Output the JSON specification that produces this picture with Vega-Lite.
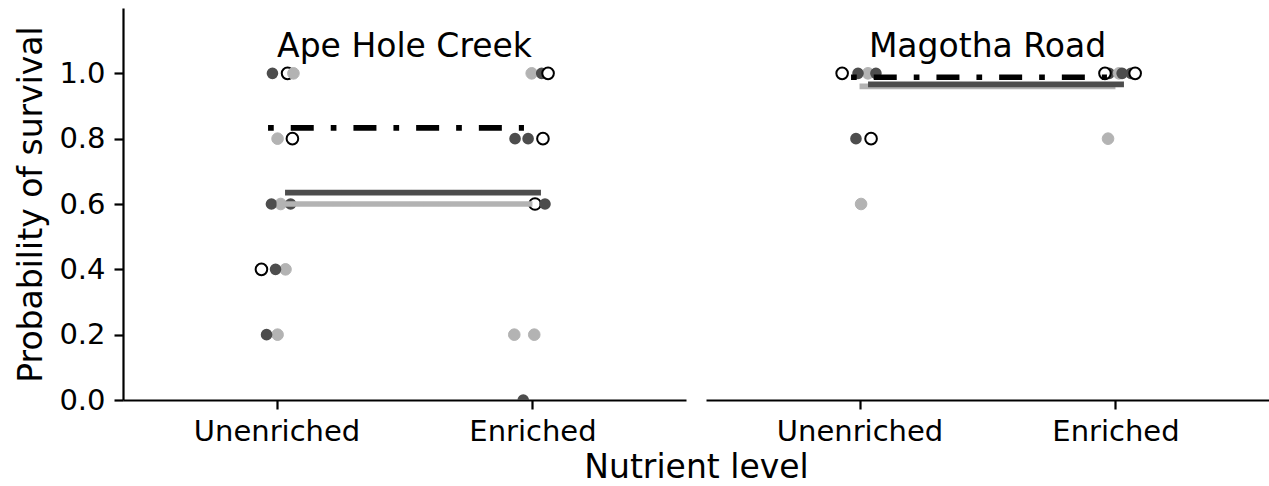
{
  "$schema": "https://vega.github.io/schema/vega-lite/v6.json",
  "background": "white",
  "padding": {"left": 15, "top": 8, "right": 0, "bottom": 0},
  "config": {
    "font": "DejaVu Sans",
    "view": {"stroke": null},
    "axis": {
      "domainColor": "black", "domainWidth": 2.2, "tickColor": "black", "tickWidth": 2.2, "tickSize": 9,
      "labelColor": "black", "labelFont": "DejaVu Sans", "labelFontSize": 29, "labelOverlap": false,
      "titleFont": "DejaVu Sans", "titleFontSize": 33, "titleFontWeight": "normal", "titleColor": "black",
      "grid": false
    },
    "title": {"font": "DejaVu Sans", "fontSize": 33, "fontWeight": "normal", "color": "black"}
  },
  "datasets": {
    "survival": [
      {"site": "Ape Hole Creek", "nutrient": "Unenriched", "group": "A", "kind": "obs", "prob": 1.0, "jitter": 0.043},
      {"site": "Ape Hole Creek", "nutrient": "Unenriched", "group": "A", "kind": "obs", "prob": 0.8, "jitter": 0.062},
      {"site": "Ape Hole Creek", "nutrient": "Unenriched", "group": "A", "kind": "obs", "prob": 0.4, "jitter": -0.059},
      {"site": "Ape Hole Creek", "nutrient": "Unenriched", "group": "B", "kind": "obs", "prob": 1.0, "jitter": 0.066},
      {"site": "Ape Hole Creek", "nutrient": "Unenriched", "group": "B", "kind": "obs", "prob": 0.8, "jitter": 0.004},
      {"site": "Ape Hole Creek", "nutrient": "Unenriched", "group": "B", "kind": "obs", "prob": 0.6, "jitter": 0.016},
      {"site": "Ape Hole Creek", "nutrient": "Unenriched", "group": "B", "kind": "obs", "prob": 0.4, "jitter": 0.035},
      {"site": "Ape Hole Creek", "nutrient": "Unenriched", "group": "B", "kind": "obs", "prob": 0.2, "jitter": 0.004},
      {"site": "Ape Hole Creek", "nutrient": "Unenriched", "group": "C", "kind": "obs", "prob": 1.0, "jitter": -0.016},
      {"site": "Ape Hole Creek", "nutrient": "Unenriched", "group": "C", "kind": "obs", "prob": 0.6, "jitter": -0.020},
      {"site": "Ape Hole Creek", "nutrient": "Unenriched", "group": "C", "kind": "obs", "prob": 0.6, "jitter": 0.055},
      {"site": "Ape Hole Creek", "nutrient": "Unenriched", "group": "C", "kind": "obs", "prob": 0.4, "jitter": -0.004},
      {"site": "Ape Hole Creek", "nutrient": "Unenriched", "group": "C", "kind": "obs", "prob": 0.2, "jitter": -0.039},
      {"site": "Ape Hole Creek", "nutrient": "Enriched", "group": "A", "kind": "obs", "prob": 0.8, "jitter": 0.041},
      {"site": "Ape Hole Creek", "nutrient": "Enriched", "group": "A", "kind": "obs", "prob": 0.6, "jitter": 0.010},
      {"site": "Ape Hole Creek", "nutrient": "Enriched", "group": "B", "kind": "obs", "prob": 1.0, "jitter": -0.003},
      {"site": "Ape Hole Creek", "nutrient": "Enriched", "group": "B", "kind": "obs", "prob": 0.2, "jitter": -0.071},
      {"site": "Ape Hole Creek", "nutrient": "Enriched", "group": "B", "kind": "obs", "prob": 0.2, "jitter": 0.007},
      {"site": "Ape Hole Creek", "nutrient": "Enriched", "group": "C", "kind": "obs", "prob": 1.0, "jitter": 0.036},
      {"site": "Ape Hole Creek", "nutrient": "Enriched", "group": "C", "kind": "obs", "prob": 0.8, "jitter": -0.068},
      {"site": "Ape Hole Creek", "nutrient": "Enriched", "group": "C", "kind": "obs", "prob": 0.8, "jitter": -0.017},
      {"site": "Ape Hole Creek", "nutrient": "Enriched", "group": "C", "kind": "obs", "prob": 0.6, "jitter": 0.049},
      {"site": "Ape Hole Creek", "nutrient": "Enriched", "group": "C", "kind": "obs", "prob": 0.0, "jitter": -0.036},
      {"site": "Ape Hole Creek", "nutrient": "Enriched", "group": "A", "kind": "obs", "prob": 1.0, "jitter": 0.061},
      {"site": "Magotha Road", "nutrient": "Unenriched", "group": "A", "kind": "obs", "prob": 1.0, "jitter": -0.068},
      {"site": "Magotha Road", "nutrient": "Unenriched", "group": "A", "kind": "obs", "prob": 0.8, "jitter": 0.045},
      {"site": "Magotha Road", "nutrient": "Unenriched", "group": "B", "kind": "obs", "prob": 1.0, "jitter": 0.033},
      {"site": "Magotha Road", "nutrient": "Unenriched", "group": "B", "kind": "obs", "prob": 0.6, "jitter": 0.006},
      {"site": "Magotha Road", "nutrient": "Unenriched", "group": "C", "kind": "obs", "prob": 1.0, "jitter": -0.006},
      {"site": "Magotha Road", "nutrient": "Unenriched", "group": "C", "kind": "obs", "prob": 1.0, "jitter": 0.064},
      {"site": "Magotha Road", "nutrient": "Unenriched", "group": "C", "kind": "obs", "prob": 0.8, "jitter": -0.014},
      {"site": "Magotha Road", "nutrient": "Enriched", "group": "C", "kind": "obs", "prob": 1.0, "jitter": -0.025},
      {"site": "Magotha Road", "nutrient": "Enriched", "group": "A", "kind": "obs", "prob": 1.0, "jitter": -0.041},
      {"site": "Magotha Road", "nutrient": "Enriched", "group": "B", "kind": "obs", "prob": 1.0, "jitter": 0.014},
      {"site": "Magotha Road", "nutrient": "Enriched", "group": "B", "kind": "obs", "prob": 0.8, "jitter": -0.029},
      {"site": "Magotha Road", "nutrient": "Enriched", "group": "C", "kind": "obs", "prob": 1.0, "jitter": 0.026},
      {"site": "Magotha Road", "nutrient": "Enriched", "group": "C", "kind": "obs", "prob": 1.0, "jitter": 0.061},
      {"site": "Magotha Road", "nutrient": "Enriched", "group": "A", "kind": "obs", "prob": 1.0, "jitter": 0.077},
      {"site": "Ape Hole Creek", "nutrient": "Unenriched", "group": "B", "kind": "fit", "prob": 0.600},
      {"site": "Ape Hole Creek", "nutrient": "Enriched", "group": "B", "kind": "fit", "prob": 0.600},
      {"site": "Ape Hole Creek", "nutrient": "Unenriched", "group": "C", "kind": "fit", "prob": 0.635},
      {"site": "Ape Hole Creek", "nutrient": "Enriched", "group": "C", "kind": "fit", "prob": 0.635},
      {"site": "Ape Hole Creek", "nutrient": "Unenriched", "group": "A", "kind": "fit", "prob": 0.833},
      {"site": "Ape Hole Creek", "nutrient": "Enriched", "group": "A", "kind": "fit", "prob": 0.833},
      {"site": "Magotha Road", "nutrient": "Unenriched", "group": "B", "kind": "fit", "prob": 0.960},
      {"site": "Magotha Road", "nutrient": "Enriched", "group": "B", "kind": "fit", "prob": 0.960},
      {"site": "Magotha Road", "nutrient": "Unenriched", "group": "C", "kind": "fit", "prob": 0.966},
      {"site": "Magotha Road", "nutrient": "Enriched", "group": "C", "kind": "fit", "prob": 0.966},
      {"site": "Magotha Road", "nutrient": "Unenriched", "group": "A", "kind": "fit", "prob": 0.988},
      {"site": "Magotha Road", "nutrient": "Enriched", "group": "A", "kind": "fit", "prob": 0.988}
    ]
  },
  "hconcat": [
    {
      "width": 563, "height": 392,
      "data": {"name": "survival"},
      "transform": [{"filter": "datum.site === 'Ape Hole Creek'"}],
      "title": {"text": "Ape Hole Creek", "offset": -82, "baseline": "alphabetic", "anchor": "middle", "frame": "group"},
      "resolve": {"scale": {"xOffset": "independent"}},
      "layer": [
        {
          "transform": [{"filter": "datum.kind === 'obs'"}],
          "mark": {"type": "point", "shape": "circle", "size": 135, "opacity": 1, "fillOpacity": 1, "clip": true},
          "encoding": {
            "x": {"field": "nutrient", "type": "nominal", "scale": {"type": "point", "domain": ["Unenriched", "Enriched"], "padding": 0.6},
                  "axis": {"title": "Nutrient level", "titleX": 573, "labelAngle": 0, "labelPadding": 8, "titlePadding": 5}},
            "xOffset": {"field": "jitter", "type": "quantitative", "scale": {"domain": [-0.5, 0.5], "range": [-128, 128]}},
            "y": {"field": "prob", "type": "quantitative", "scale": {"domain": [0, 1.2], "nice": false, "zero": true},
                  "axis": {"title": "Probability of survival", "values": [0, 0.1, 0.2, 0.3, 0.4, 0.5, 0.6, 0.7, 0.8, 0.9, 1.0], "format": ".1f", "labelPadding": 9, "titlePadding": 10}},
            "fill": {"field": "group", "type": "nominal", "scale": {"domain": ["A", "B", "C"], "range": ["#ffffff", "#b3b3b3", "#4d4d4d"]}, "legend": null},
            "stroke": {"field": "group", "type": "nominal", "scale": {"domain": ["A", "B", "C"], "range": ["#000000", "#b3b3b3", "#4d4d4d"]}, "legend": null},
            "strokeWidth": {"field": "group", "type": "ordinal", "scale": {"domain": ["A", "B", "C"], "range": [2, 0, 0]}, "legend": null}
          }
        },
        {
          "transform": [{"filter": "datum.kind === 'fit'"}],
          "mark": {"type": "line", "strokeWidth": 5.7, "strokeCap": "butt", "clip": true},
          "encoding": {
            "x": {"field": "nutrient", "type": "nominal", "scale": {"type": "point", "domain": ["Unenriched", "Enriched"], "padding": 0.6}},
            "xOffset": {"field": "group", "type": "nominal", "scale": {"type": "point", "domain": ["A", "B", "C"], "range": [-8.5, 8.5], "padding": 0}},
            "y": {"field": "prob", "type": "quantitative"},
            "stroke": {"field": "group", "type": "nominal", "legend": null},
            "strokeDash": {"field": "group", "type": "nominal", "scale": {"domain": ["A", "B", "C"], "range": [[5.7, 17, 23, 17], [1, 0], [1, 0]]}, "legend": null}
          }
        }
      ]
    },
    {
      "width": 563, "height": 392,
      "data": {"name": "survival"},
      "transform": [{"filter": "datum.site === 'Magotha Road'"}],
      "title": {"text": "Magotha Road", "offset": -82, "baseline": "alphabetic", "anchor": "middle", "frame": "group"},
      "resolve": {"scale": {"xOffset": "independent"}},
      "layer": [
        {
          "transform": [{"filter": "datum.kind === 'obs'"}],
          "mark": {"type": "point", "shape": "circle", "size": 135, "opacity": 1, "fillOpacity": 1, "clip": true},
          "encoding": {
            "x": {"field": "nutrient", "type": "nominal", "scale": {"type": "point", "domain": ["Unenriched", "Enriched"], "padding": 0.6},
                  "axis": {"title": null, "labelAngle": 0, "labelPadding": 8}},
            "xOffset": {"field": "jitter", "type": "quantitative", "scale": {"domain": [-0.5, 0.5], "range": [-128, 128]}},
            "y": {"field": "prob", "type": "quantitative", "scale": {"domain": [0, 1.2], "nice": false, "zero": true}, "axis": null},
            "fill": {"field": "group", "type": "nominal", "scale": {"domain": ["A", "B", "C"], "range": ["#ffffff", "#b3b3b3", "#4d4d4d"]}, "legend": null},
            "stroke": {"field": "group", "type": "nominal", "scale": {"domain": ["A", "B", "C"], "range": ["#000000", "#b3b3b3", "#4d4d4d"]}, "legend": null},
            "strokeWidth": {"field": "group", "type": "ordinal", "scale": {"domain": ["A", "B", "C"], "range": [2, 0, 0]}, "legend": null}
          }
        },
        {
          "transform": [{"filter": "datum.kind === 'fit'"}],
          "mark": {"type": "line", "strokeWidth": 5.7, "strokeCap": "butt", "clip": true},
          "encoding": {
            "x": {"field": "nutrient", "type": "nominal", "scale": {"type": "point", "domain": ["Unenriched", "Enriched"], "padding": 0.6}},
            "xOffset": {"field": "group", "type": "nominal", "scale": {"type": "point", "domain": ["A", "B", "C"], "range": [-8.5, 8.5], "padding": 0}},
            "y": {"field": "prob", "type": "quantitative"},
            "stroke": {"field": "group", "type": "nominal", "legend": null},
            "strokeDash": {"field": "group", "type": "nominal", "scale": {"domain": ["A", "B", "C"], "range": [[5.7, 17, 23, 17], [1, 0], [1, 0]]}, "legend": null}
          }
        }
      ]
    }
  ],
  "spacing": 20,
  "bounds": "flush"
}
